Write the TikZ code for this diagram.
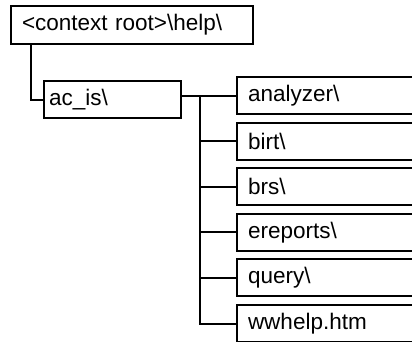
\documentclass[tikz,border=0pt]{standalone}
\usepackage{fontspec}
\setmainfont{Liberation Sans}
\begin{document}
\begin{tikzpicture}[x=1pt,y=-1pt,
  box/.style={draw, line width=2pt, rectangle, anchor=north west,
    minimum height=37pt, align=left, inner ysep=0pt,
    font=\fontsize{22.5}{25}\selectfont},
  link/.style={line width=2pt}]
  \useasboundingbox (0,0) rectangle (412,341);
  \clip (0,0) rectangle (412,341);
  % top-level folder
  \node[box, inner xsep=11pt, text width=220pt, minimum height=38pt] (root) at (10,5) {<context root>\textbackslash help\textbackslash};
  % help subfolder
  \node[box, inner xsep=5pt, text width=127pt] (acis) at (43,80) {ac\_is\textbackslash};
  % contents of ac_is
  \node[box, inner xsep=11pt, text width=178pt] (analyzer) at (236,76)    {analyzer\textbackslash};
  \node[box, inner xsep=11pt, text width=178pt] (birt)     at (236,121.6) {birt\textbackslash};
  \node[box, inner xsep=11pt, text width=178pt] (brs)      at (236,167.2) {brs\textbackslash};
  \node[box, inner xsep=11pt, text width=178pt] (ereports) at (236,212.8) {ereports\textbackslash};
  \node[box, inner xsep=11pt, text width=178pt] (query)    at (236,258.4) {query\textbackslash};
  \node[box, inner xsep=11pt, text width=178pt] (wwhelp)   at (236,304)   {wwhelp.htm};
  % connectors
  \draw[link] ([xshift=21pt]root.south west) |- (acis.west);
  \coordinate (trunk) at (200,0);
  \draw[link] (acis.east |- analyzer.west) -- (analyzer.west);
  \draw[link] (trunk |- analyzer.west) -- (trunk |- wwhelp.west) -- (wwhelp.west);
  \foreach \n in {birt,brs,ereports,query}
    \draw[link] (trunk |- \n.west) -- (\n.west);
\end{tikzpicture}
\end{document}
